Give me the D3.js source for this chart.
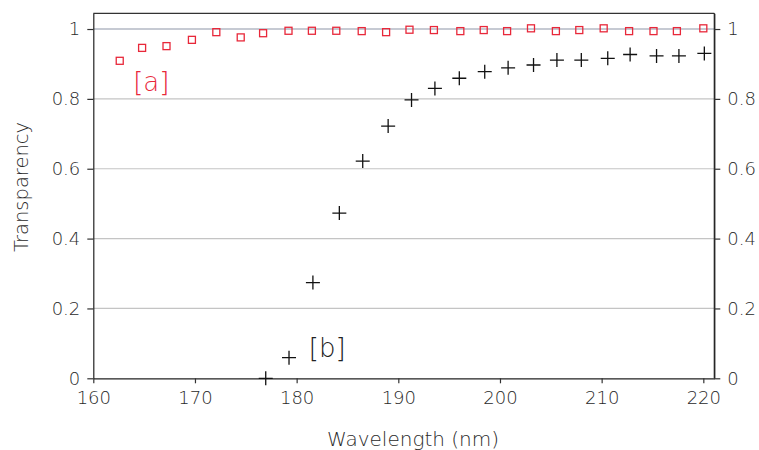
<!DOCTYPE html>
<html><head><meta charset="utf-8">
<script src="https://cdn.jsdelivr.net/npm/d3@7"></script>
<style>
body{margin:0;background:#fff;}
text{font-family:"DejaVu Sans",sans-serif;font-weight:200;}
</style></head>
<body><svg id="c" width="759" height="450"></svg>
<script>
const redX = [162.6,164.8,167.2,169.7,172.1,174.5,176.7,179.2,181.5,183.9,186.4,188.8,191.1,193.5,196.1,198.4,200.7,203.05,205.5,207.8,210.2,212.7,215.1,217.4,220.0];
const redY = [0.909,0.946,0.951,0.969,0.991,0.976,0.988,0.995,0.995,0.995,0.994,0.991,0.998,0.997,0.994,0.997,0.994,1.002,0.994,0.997,1.002,0.994,0.994,0.994,1.002];
const blackX = [176.96,179.25,181.6,184.2,186.5,189.0,191.3,193.6,196.0,198.5,200.8,203.3,205.6,208.0,210.6,212.8,215.4,217.6,220.1];
const blackY = [0.0,0.059,0.274,0.473,0.622,0.722,0.797,0.830,0.859,0.878,0.889,0.897,0.911,0.911,0.916,0.927,0.923,0.923,0.930];
const xTicks = [160,170,180,190,200,210,220];
const yTicks = [0,0.2,0.4,0.6,0.8,1];
const yTickLabels = ["0","0.2","0.4","0.6","0.8","1"];

const svg = d3.select("#c");
const L=93.3, R=714.3, T=13.3, B=378.3;
const x = d3.scaleLinear().domain([160,221.08]).range([L,R]);
const y = d3.scaleLinear().domain([0,1.045]).range([B,T]);

// gridlines
svg.append("g").selectAll("line").data(yTicks.filter(d=>d>0)).join("line")
  .attr("x1",L).attr("x2",R).attr("y1",d=>y(d)).attr("y2",d=>y(d))
  .attr("stroke",d=>d===1?"#8d96a8":"#c4c4c4").attr("stroke-width",1.2);

// frame top/right
svg.append("line").attr("x1",L).attr("x2",R).attr("y1",T).attr("y2",T).attr("stroke","#333").attr("stroke-width",1.2);
svg.append("line").attr("x1",R).attr("x2",R).attr("y1",T).attr("y2",B).attr("stroke","#222").attr("stroke-width",1.2);

const fmt = d=>yTickLabels[yTicks.indexOf(d)];
const styleAxis = g=>{
  g.select(".domain").attr("stroke","#222").attr("stroke-width",1.2);
  g.selectAll(".tick line").attr("stroke","#333").attr("stroke-width",1.2);
  g.selectAll(".tick text").attr("fill","#2a2a2a").style("font-size","18px");
};
svg.append("g").attr("transform",`translate(0,${B})`)
  .call(d3.axisBottom(x).tickValues(xTicks).tickSize(5).tickSizeOuter(0).tickPadding(8)).call(styleAxis);
svg.append("g").attr("transform",`translate(${L},0)`)
  .call(d3.axisLeft(y).tickValues(yTicks).tickFormat(fmt).tickSize(6).tickSizeOuter(0).tickPadding(7)).call(styleAxis);
svg.append("g").attr("transform",`translate(${R},0)`)
  .call(d3.axisRight(y).tickValues(yTicks).tickFormat(fmt).tickSize(6).tickSizeOuter(0).tickPadding(7)).call(styleAxis);

// red squares
const red = redX.map((v,i)=>[v,redY[i]]);
svg.append("g").selectAll("rect").data(red).join("rect")
  .attr("x",d=>x(d[0])-3.5).attr("y",d=>y(d[1])-3.5).attr("width",7).attr("height",7)
  .attr("fill","none").attr("stroke","#e8283a").attr("stroke-width",1.3);

// black plus
const blk = blackX.map((v,i)=>[v,blackY[i]]);
svg.append("g").selectAll("path").data(blk).join("path")
  .attr("d",d=>{const cx=x(d[0]),cy=y(d[1]);return `M${cx-7},${cy}H${cx+7}M${cx},${cy-7}V${cy+7}`;})
  .attr("stroke","#111").attr("stroke-width",1.3).attr("fill","none");

// annotations
svg.append("text").attr("x",x(165.7)).attr("y",y(0.823)).attr("text-anchor","middle")
  .attr("fill","#e8283a").style("font-size","26px").text("[a]");
svg.append("text").attr("x",x(183.0)).attr("y",y(0.062)).attr("text-anchor","middle")
  .attr("fill","#222").style("font-size","26px").text("[b]");

// titles
svg.append("text").attr("x",413).attr("y",446).attr("text-anchor","middle")
  .attr("fill","#2a2a2a").style("font-size","20px").text("Wavelength (nm)");
svg.append("text").attr("transform","translate(28,187) rotate(-90)").attr("text-anchor","middle")
  .attr("fill","#2a2a2a").style("font-size","19.5px").text("Transparency");
</script></body></html>
